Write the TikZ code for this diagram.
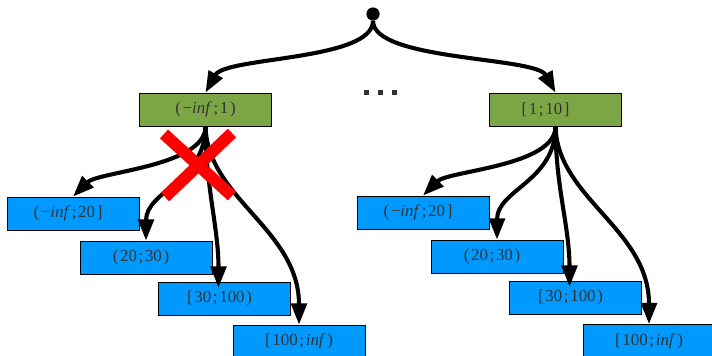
\documentclass[tikz,border=0pt]{standalone}
\usepackage{fontspec}
\setmainfont{Liberation Serif}
\usetikzlibrary{arrows.meta,calc}
\definecolor{boxgreen}{RGB}{124,166,70}
\definecolor{boxblue}{RGB}{0,153,255}
\definecolor{labelgray}{RGB}{51,51,51}
\tikzset{
  rng/.style={draw=black,line width=0.6pt,minimum width=3.3cm,minimum height=0.825cm,inner sep=0pt,
    text=labelgray,font=\fontsize{12}{14}\selectfont},
  greenbox/.style={rng,fill=boxgreen},
  bluebox/.style={rng,fill=boxblue},
  conn/.style={line width=2.9pt,-{Triangle[length=15pt,width=11pt]}}
}
\newcommand{\inff}{\textit{inf}}
\newcommand{\gap}{\kern0.1em}
\begin{document}
\begin{tikzpicture}[x=0.025cm,y=-0.025cm]
            \useasboundingbox (0,0) rectangle (712,356);
            % root and first level
            \node [circle,fill=black,inner sep=0pt,minimum size=0.33cm] (root) at (373,14) {};
            \node [greenbox] (g1) at (205.5,109.5) {(\gap−\inff\gap;\gap1\gap)};
            \node [greenbox] (g2) at (555.5,109.5) {\hspace*{-0.5cm}[\gap1\gap;\gap10\gap]};
            \fill [labelgray] (363.5,89.5) rectangle (368.5,94.5);
            \fill [labelgray] (377.5,89.5) rectangle (382.5,94.5);
            \fill [labelgray] (391.5,89.5) rectangle (396.5,94.5);
            \draw [conn] (root.south) .. controls +(0,40) and +(20,-36) .. (g1.north);
            \draw [conn] (root.south) .. controls +(0,40) and +(-20,-36) .. (g2.north);
            % left ranges
            \node [bluebox] (b1) at (73,213.5) {(\gap−\inff\gap;\gap20\gap]\hspace*{0.25cm}};
            \node [bluebox] (b2) at (146,257.5) {(\gap20\gap;\gap30\gap)\hspace*{0.25cm}};
            \node [bluebox] (b3) at (224.5,298.5) {[\gap30\gap;\gap100\gap)\hspace*{0.25cm}};
            \node [bluebox] (b4) at (299,341.5) {[\gap100\gap;\gap\inff\gap)};
            \draw [conn] (g1.south) .. controls +(0,40) and +(25,-25) .. (b1.north);
            \draw [conn] (g1.south) .. controls +(0,55) and +(0,-50) .. (b2.north);
            \draw [conn] (g1.south) .. controls +(0,60) and +(0,-60) .. ($(b3.north)+(-6,6)$);
            \draw [conn] (g1.south) .. controls +(2,72) and +(0,-95) .. (b4.north);
            % cut
            \draw [red,line width=8.5pt] (164,134) -- (232,196);
            \draw [red,line width=8.5pt] (232,133) -- (165,197);
            % right ranges
            \node [bluebox] (r1) at (423,212.5) {(\gap−\inff\gap;\gap20\gap]\hspace*{0.25cm}};
            \node [bluebox] (r2) at (497,256.5) {(\gap20\gap;\gap30\gap)\hspace*{0.25cm}};
            \node [bluebox] (r3) at (575.5,297.5) {[\gap30\gap;\gap100\gap)\hspace*{0.25cm}};
            \node [bluebox] (r4) at (649,341) {[\gap100\gap;\gap\inff\gap)};
            \draw [conn] (g2.south) .. controls +(0,40) and +(25,-25) .. (r1.north);
            \draw [conn] (g2.south) .. controls +(0,55) and +(0,-50) .. (r2.north);
            \draw [conn] (g2.south) .. controls +(0,60) and +(0,-60) .. ($(r3.north)+(-6,6)$);
            \draw [conn] (g2.south) .. controls +(2,72) and +(0,-95) .. (r4.north);
        \end{tikzpicture}
\end{document}
